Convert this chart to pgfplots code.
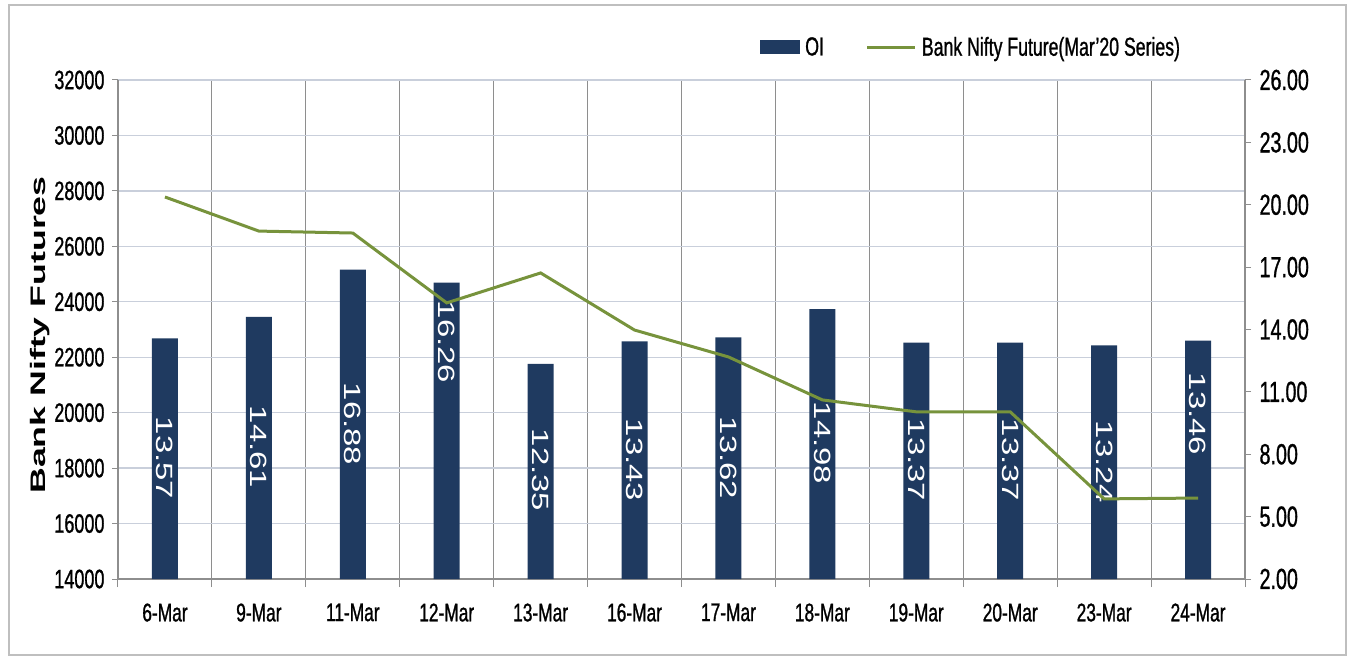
\documentclass[border=0pt]{standalone}
\usepackage{fontspec}
\setmainfont{Liberation Sans}[FakeStretch=0.68, FakeBold=1]
\newfontfamily\barfont{Liberation Sans}[FakeStretch=1.4]
\newfontfamily\ylfont{Liberation Sans}[FakeStretch=1.7]
\usepackage{pgfplots}
\usepackage{pgfplotstable}
\pgfplotsset{compat=1.18}
\definecolor{navy}{HTML}{1F3A60}
\definecolor{lineolive}{HTML}{77933C}
\definecolor{hgrid}{HTML}{C9CFDB}
\definecolor{vgrid}{HTML}{8E8E8E}
\definecolor{frame}{HTML}{BFBFBF}

\pgfplotstableread{
x lab oi ly fut
0 6-Mar 13.57 7.82 27780
1 9-Mar 14.61 8.35 26550
2 11-Mar 16.88 9.46 26480
3 12-Mar 16.26 13.40 23960
4 13-Mar 12.35 7.24 25040
5 16-Mar 13.43 7.72 22980
6 17-Mar 13.62 7.82 22010
7 18-Mar 14.98 8.54 20460
8 19-Mar 13.37 7.72 20030
9 20-Mar 13.37 7.72 20030
10 23-Mar 13.24 7.63 16890
11 24-Mar 13.46 9.94 16920
}\data

\pgfplotsset{
  base/.style={scale only axis, width=1127pt, height=499pt,
    at={(118pt,78pt)}, anchor=south west, xmin=-0.5, xmax=11.5},
}

\begin{document}
\begin{tikzpicture}[x=1pt,y=1pt]
\useasboundingbox (0,0) rectangle (1349,657);
\draw[frame, line width=2pt] (9,2) rectangle (1346,652);

% grid + left axis
\begin{axis}[base,
  ymin=14000, ymax=32000, ytick={14000,16000,...,32000},
  scaled y ticks=false,
  axis x line*=bottom, axis y line*=left,
  axis line style={-, vgrid, line width=1.2pt},
  xtick={0,...,11},
  xticklabels={6-Mar,9-Mar,11-Mar,12-Mar,13-Mar,16-Mar,17-Mar,18-Mar,19-Mar,20-Mar,23-Mar,24-Mar},
  minor xtick={-0.5,0.5,...,11.5},
  xminorgrids, ymajorgrids,
  every major x tick/.append style={draw=none},
  tick align=outside, major tick length=6pt, minor tick length=8pt,
  tick style={vgrid, line width=1pt},
  minor grid style={vgrid, line width=0.9pt},
  major grid style={hgrid, line width=1.3pt},
  yticklabel style={font=\fontsize{26.5}{30}\selectfont, text=black, xshift=-4pt},
  xticklabel style={font=\fontsize{25.5}{30}\selectfont, text=black, yshift=-15pt},
  ylabel={\ylfont\bfseries\fontsize{21}{24}\selectfont Bank Nifty Futures},
  every axis y label/.style={at={(axis description cs:-0.0692,0.489)}, rotate=90, anchor=center},
  /pgf/number format/.cd, 1000 sep={}, assume math mode=true
]
\end{axis}

% bars + right axis
\begin{axis}[base,
  ymin=2, ymax=26, ytick={2,5,...,26},
  axis y line*=right, axis x line=none,
  axis line style={-, vgrid, line width=1.2pt},
  tick align=outside, major tick length=6pt,
  tick style={vgrid, line width=1pt},
  yticklabel style={font=\fontsize{29}{32}\selectfont, text=black, xshift=5pt,
    /pgf/number format/.cd, fixed, fixed zerofill, precision=2, assume math mode=true},
  legend style={at={(axis description cs:0.5697,1.066)}, anchor=west,
    draw=none, fill=none, inner sep=0pt,
    font=\fontsize{26}{30}\selectfont,
    /tikz/every even column/.append style={column sep=40pt}},
  legend columns=2,
]
\addplot[ybar, bar width=26pt, bar shift=0pt, fill=navy, draw=none,
  legend image code/.code={\fill[navy] (0pt,-7pt) rectangle (40pt,7pt);}]
  table[x=x, y=oi]{\data};
\addlegendentry{\hspace{3pt}OI}
\addplot[forget plot, draw=none, mark=none, nodes near coords,
  point meta=explicit symbolic,
  every node near coord/.append style={anchor=center, rotate=-90, text=white,
    font=\barfont\fontsize{23.5}{28}\selectfont}]
  table[x=x, y=ly, meta=oi]{\data};
\addlegendimage{legend image code/.code={\draw[lineolive, line width=3pt] (0pt,0pt) -- (48pt,0pt);}}
\addlegendentry{\hspace{3pt}Bank Nifty Future(Mar'20 Series)}
\end{axis}

% line on top
\begin{axis}[base, ymin=14000, ymax=32000, hide axis]
\addplot[lineolive, line width=3pt, mark=none] table[x=x, y=fut]{\data};
\end{axis}
\end{tikzpicture}
\end{document}
